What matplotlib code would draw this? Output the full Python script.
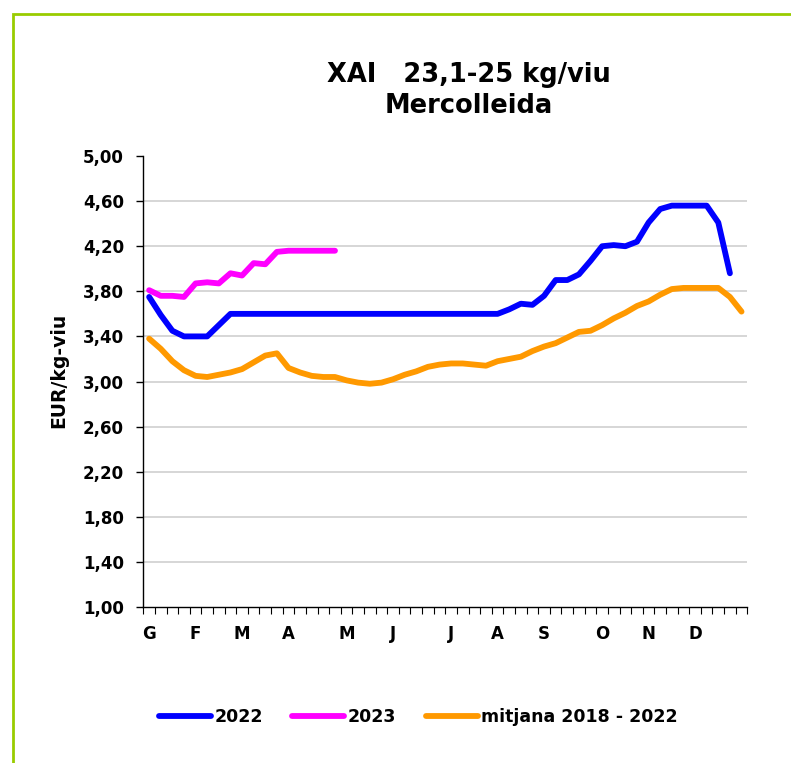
import matplotlib
matplotlib.use('Agg')
import matplotlib.pyplot as plt
from matplotlib.patches import Rectangle
from matplotlib.ticker import FixedLocator, FuncFormatter

plt.rcParams['font.family'] = ['DejaVu Sans']
plt.rcParams['font.weight'] = 'bold'

# weekly prices (EUR/kg-viu), 52 weeks
weeks = list(range(1, 53))
month_labels = ['G', 'F', 'M', 'A', 'M', 'J', 'J', 'A', 'S', 'O', 'N', 'D']
month_weeks = [1, 5, 9, 13, 18, 22, 27, 31, 35, 40, 44, 48]

y2022 = [3.75, 3.59, 3.45, 3.40, 3.40, 3.40, 3.50, 3.60, 3.60, 3.60,
         3.60, 3.60, 3.60, 3.60, 3.60, 3.60, 3.60, 3.60, 3.60, 3.60,
         3.60, 3.60, 3.60, 3.60, 3.60, 3.60, 3.60, 3.60, 3.60, 3.60,
         3.60, 3.64, 3.69, 3.68, 3.76, 3.90, 3.90, 3.95, 4.07, 4.20,
         4.21, 4.20, 4.24, 4.41, 4.53, 4.56, 4.56, 4.56, 4.56, 4.41,
         3.96]
y2023 = [3.81, 3.76, 3.76, 3.75, 3.87, 3.88, 3.87, 3.96, 3.94, 4.05,
         4.04, 4.15, 4.16, 4.16, 4.16, 4.16, 4.16]
mitjana = [3.38, 3.29, 3.18, 3.10, 3.05, 3.04, 3.06, 3.08, 3.11, 3.17,
           3.23, 3.25, 3.12, 3.08, 3.05, 3.04, 3.04, 3.01, 2.99, 2.98,
           2.99, 3.02, 3.06, 3.09, 3.13, 3.15, 3.16, 3.16, 3.15, 3.14,
           3.18, 3.20, 3.22, 3.27, 3.31, 3.34, 3.39, 3.44, 3.45, 3.50,
           3.56, 3.61, 3.67, 3.71, 3.77, 3.82, 3.83, 3.83, 3.83, 3.83,
           3.75, 3.62]

fig = plt.figure(figsize=(7.91, 7.63), dpi=100)
ax = fig.add_axes([0.1812, 0.2045, 0.7636, 0.591])

lw = 4.2
ax.plot(weeks[:len(y2022)], y2022, color='#0000ff', lw=lw, label='2022',
        solid_capstyle='round', solid_joinstyle='round', zorder=3)
ax.plot(weeks[:len(y2023)], y2023, color='#ff00ff', lw=lw, label='2023',
        solid_capstyle='round', solid_joinstyle='round', zorder=3)
ax.plot(weeks, mitjana, color='#ff9900', lw=lw, label='mitjana 2018 - 2022',
        solid_capstyle='round', solid_joinstyle='round', zorder=3)

ax.set_xlim(0.5, 52.5)
ax.set_ylim(1.0, 5.0)

# y axis
yt = [1.0 + 0.4 * k for k in range(11)]
ax.set_yticks(yt)
ax.yaxis.set_major_formatter(FuncFormatter(lambda v, p: f'{v:.2f}'.replace('.', ',')))
ax.tick_params(axis='y', direction='out', length=5, width=1, pad=9, labelsize=12)
# gridlines (none at the top value)
for v in yt[1:-1]:
    ax.axhline(v, color='#d0d0d0', lw=1.2, zorder=0)

# x axis: month labels without ticks, week boundaries as minor ticks
ax.set_xticks(month_weeks)
ax.set_xticklabels(month_labels)
ax.tick_params(axis='x', which='major', length=0, pad=13, labelsize=12)
ax.xaxis.set_minor_locator(FixedLocator([w + 0.5 for w in range(0, 53)]))
ax.tick_params(axis='x', which='minor', direction='out', length=5, width=0.8)

for s in ['top', 'right']:
    ax.spines[s].set_visible(False)
for s in ['left', 'bottom']:
    ax.spines[s].set_color('black')
    ax.spines[s].set_linewidth(1.0)

fig.text(0.074, 0.514, 'EUR/kg-viu', rotation=90, ha='center', va='center',
         fontsize=13.5, fontweight='bold')
fig.text(0.593, 0.882, 'XAI   23,1-25 kg/viu\nMercolleida', ha='center', va='center',
         fontsize=18.5, fontweight='bold', linespacing=1.25)

fig.legend(loc='center', bbox_to_anchor=(0.529, 0.06), ncol=3, frameon=False,
           fontsize=12.5, handlelength=3.0, handletextpad=0.2, columnspacing=1.7)

# green frame
fig.patches.append(Rectangle((13 / 791, -0.05), 1.1, 1.05 - 14 / 763,
                             transform=fig.transFigure, fill=False,
                             edgecolor='#99cc00', lw=2.0))

fig.savefig('out.png', dpi=100)
